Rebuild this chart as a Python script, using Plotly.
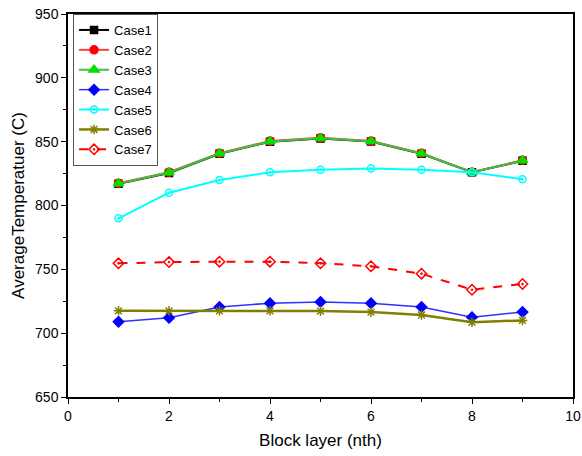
import plotly.graph_objects as go

layers = [1, 2, 3, 4, 5, 6, 7, 8, 9]
case1 = [817, 825.5, 840.5, 850, 852.5, 850.2, 840.5, 826, 835]
case2 = [817.5, 826, 841, 850.5, 853, 850.5, 841, 826, 835.5]
case3 = [817.2, 825.8, 840.7, 850.2, 852.7, 850.3, 840.7, 826, 835.2]
case4 = [709, 712, 720.5, 723.5, 724.5, 723.5, 720.5, 712.5, 716.5]
case5 = [790, 810, 820, 826, 828, 829, 828, 826, 820.5]
case6 = [717.5, 717.5, 717.5, 717.5, 717.3, 716.5, 714.2, 708.5, 710]
case7 = [754.7, 755.7, 756, 756, 754.8, 752.4, 746.6, 734, 738.5]

series = [
    ("Case1", case1, "black", "square", 7, "black", "solid", 2),
    ("Case2", case2, "#ff4040", "circle", 8, "red", "solid", 2),
    ("Case3", case3, "#40c040", "triangle-up", 9, "#00e000", "solid", 2),
    ("Case4", case4, "#3030ff", "diamond", 8, "blue", "solid", 1.5),
    ("Case5", case5, "cyan", "circle-open-dot", 7, "cyan", "solid", 2),
    ("Case6", case6, "#808000", "asterisk-open", 8, "#808000", "solid", 2.5),
    ("Case7", case7, "red", "diamond-open-dot", 8, "red", "dash", 2),
]

FONT = "Liberation Sans, Arial, sans-serif"

fig = go.Figure()
for name, ys, lc, sym, ms, mc, dash, lw in series:
    fig.add_trace(go.Scatter(
        x=layers, y=ys, name=name, mode="lines+markers",
        line=dict(color=lc, width=lw, dash=dash),
        marker=dict(symbol=sym, size=ms, color=mc,
                    line=dict(color=mc, width=1.5)),
    ))

axis_common = dict(
    showgrid=False, zeroline=False, showline=True, linecolor="black",
    linewidth=1.5, mirror=True, ticks="outside", ticklen=5, tickwidth=1,
    tickcolor="black", tickfont=dict(family=FONT, size=14, color="black"),
    automargin=False,
)

fig.update_xaxes(range=[0, 10], dtick=2, tick0=0,
                 minor=dict(ticks="outside", dtick=1, ticklen=3, tickcolor="black"),
                 title=dict(text="Block layer (nth)", font=dict(family=FONT, size=17, color="black"), standoff=12),
                 **axis_common)
fig.update_yaxes(range=[650, 950], dtick=50, tick0=650,
                 minor=dict(ticks="outside", dtick=25, ticklen=3, tickcolor="black"),
                 title=dict(text="AverageTemperatuer (C)", font=dict(family=FONT, size=17, color="black"), standoff=6),
                 **axis_common)

fig.update_layout(
    width=582, height=456,
    margin=dict(l=68, r=9, t=14, b=59),
    plot_bgcolor="white", paper_bgcolor="white",
    legend=dict(x=0.01, y=1.0, xanchor="left", yanchor="top",
                bordercolor="#555555", borderwidth=1, bgcolor="white",
                font=dict(family=FONT, size=13, color="black"),
                tracegroupgap=0, itemwidth=30),
)

fig.write_html("out.html")
